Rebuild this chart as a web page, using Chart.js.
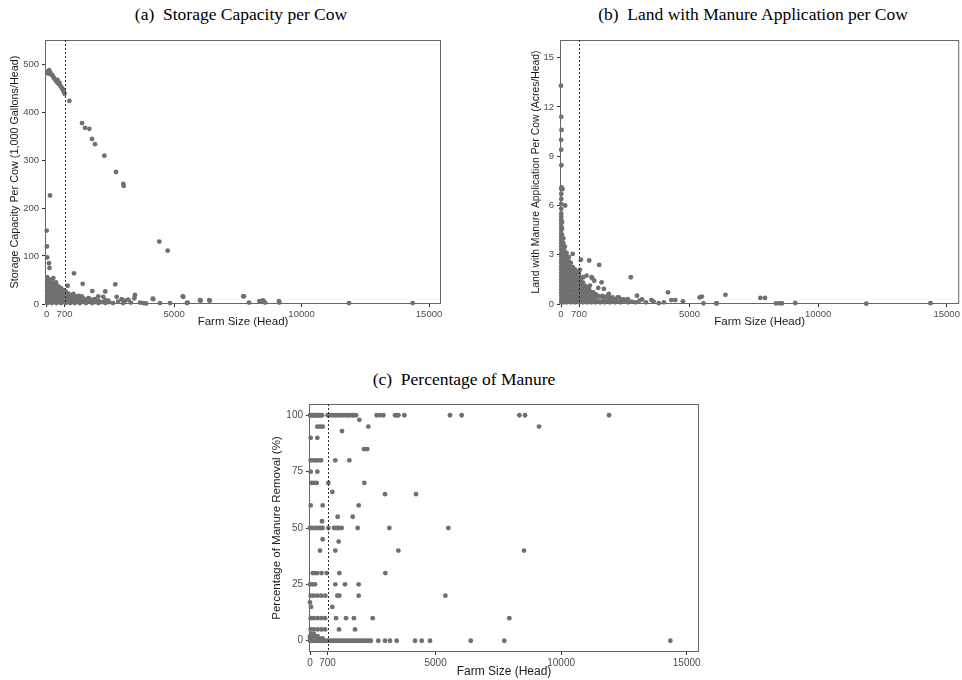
<!DOCTYPE html>
<html>
<head>
<meta charset="utf-8">
<script src="https://cdn.jsdelivr.net/npm/chart.js@4"></script>
<style>
  body { margin:0; background:#fff; width:962px; height:680px; position:relative; overflow:hidden; }
  .cap { position:absolute; width:440px; text-align:center; white-space:pre;
         font-family:"Liberation Serif","Times New Roman",serif; font-size:17.5px; color:#000; }
  canvas { position:absolute; }
</style>
</head>
<body>
<div class="cap" style="left:21px;top:4px">(a)  Storage Capacity per Cow</div>
<div class="cap" style="left:533px;top:4px">(b)  Land with Manure Application per Cow</div>
<div class="cap" style="left:244px;top:369px">(c)  Percentage of Manure</div>

<canvas id="cA" width="450" height="299" style="left:0;top:30px"></canvas>
<canvas id="cB" width="447" height="299" style="left:515px;top:30px"></canvas>
<canvas id="cC" width="440" height="284" style="left:264px;top:395px"></canvas>

<script>
const CUTOFF = 700;
const xTicks = [0, 700, 5000, 10000, 15000];

// (a) storage capacity per cow, 1,000 gal/head
const storageTicks = [0, 100, 200, 300, 400, 500];
const storageHigh = [[20,484],[60,480],[100,487],[140,482],[180,478],[230,476],[270,472],[300,470],[350,466],
  [390,463],[420,467],[460,459],[500,461],[530,455],[570,452],[610,449],[640,446],[670,442],[700,438]];
const storageScatter = [[890,423],[1385,377],[1502,367],[1672,365],[1777,344],[1895,333],[2260,309],[2719,275],
  [3005,250],[3020,246],[4418,130],[4747,111],[130,226],[0,153],[10,120],[20,97],[90,85],[110,75],[260,54],[365,45],
  [1071,64],[1411,42],[2692,41],[823,38],[1790,27],[2297,26],[3464,19],[3438,12],[4160,11],[4183,10],[5336,16],
  [5360,15],[5500,2],[5530,3],[6014,8],[6040,7],[6380,8],[6395,7],[7713,16],[7740,16],[7937,3],[8342,6],[8368,5],
  [8474,7],[8497,7],[8564,3],[9113,6],[9125,3],[11860,2],[14358,2],[1046,21],[1241,17],[1373,16],[1633,12],
  [1829,9],[2025,16],[2221,15],[2417,7],[2744,15],[2940,10],[3072,7],[3202,9],[3660,3],[3790,2],[4445,2],[4837,2]];
const storageColX = [20,110,200,290,380,470,560,650,740,830,920,1010,1100,1200,1300,1420,1540,1660,1780,1900,
  2030,2160,2300,2450,2600,2800,3000,3300,3900];
const storageColY = [[2,10,18,26,34,42,50,56],[4,12,20,28,36,44,51],[2,10,18,26,34,42,48],[5,13,21,29,37,44],
  [2,10,18,26,34,40],[5,13,21,29,36],[2,10,18,26,33],[5,13,21,29],[2,10,18,26],[5,13,22],[2,10,19],[5,13,18],
  [2,10,16],[5,13],[2,10,15],[5,12],[2,9],[5,11],[2,8],[4,10],[2,7],[4],[2,8],[4],[2],[5],[2],[3],[1]];

// (b) land with manure application per cow, acres/head
const landTicks = [0, 3, 6, 9, 12, 15];
const landScatter = [[0,13.3],[10,11.4],[20,10.6],[5,10.0],[8,9.4],[15,8.45],[20,7.1],[60,7.0],[160,6.0],
  [453,3.05],[775,2.7],[1097,2.65],[1485,2.38],[2713,1.63],[996,1.73],[1190,1.63],[736,2.08],[866,1.63],[1214,1.57],
  [1292,1.42],[1578,1.32],[1124,1.12],[1060,1.0],[1447,0.98],[1860,0.61],[1667,0.92],[2957,0.51],[4159,0.71],
  [4290,0.24],[4445,0.24],[4740,0.16],[5388,0.4],[5477,0.45],[6395,0.56],[6034,0.04],[2248,0.4],[2442,0.28],
  [3151,0.28],[3515,0.24],[5543,0.04],[6060,0.04],[7752,0.37],[7934,0.37],[8360,0.04],[8488,0.04],[8593,0.04],
  [9109,0.06],[11872,0.02],[14368,0.05]];
const landColX = [10,40,90,150,220,300,380,460,540,620,700,780,860,940,1020,1100,1180,1260,1340,1430,1520,1610,
  1700,1800,1900,2000,2100,2200,2320,2450,2600,2750,2900,3050,3300,3600,3800,4000];
const landColY = [
  [0.1,0.3,0.5,0.7,0.9,1.1,1.3,1.5,1.7,1.9,2.1,2.3,2.5,2.7,2.9,3.1,3.3,3.5,3.7,3.9,4.1,4.3,4.5,4.7,4.9,5.1,5.3,5.5,5.8,6.1,6.4,6.7,7.0],
  [0.2,0.6,1.0,1.4,1.8,2.2,2.6,3.0,3.4,3.8,4.2,4.6,5.0],
  [0.1,0.4,0.7,1.0,1.3,1.6,1.9,2.2,2.5,2.8,3.1,3.4,3.7,4.0],
  [0.2,0.5,0.8,1.1,1.4,1.7,2.0,2.3,2.6,2.9,3.2,3.5],
  [0.1,0.4,0.7,1.0,1.3,1.6,1.9,2.2,2.5,2.8,3.1],
  [0.2,0.5,0.8,1.1,1.4,1.7,2.0,2.3,2.6,2.85],
  [0.1,0.4,0.7,1.0,1.3,1.6,1.9,2.2,2.5],
  [0.2,0.5,0.8,1.1,1.4,1.7,2.0,2.25],
  [0.1,0.4,0.7,1.0,1.3,1.6,1.9,2.1],
  [0.2,0.5,0.8,1.1,1.4,1.7,1.95],
  [0.1,0.4,0.7,1.0,1.3,1.6,1.85],
  [0.2,0.5,0.8,1.1,1.4,1.6],
  [0.1,0.4,0.7,1.0,1.3],
  [0.2,0.5,0.8,1.1],
  [0.1,0.4,0.7,1.0],
  [0.2,0.5,0.85],[0.1,0.4,0.7],[0.2,0.5,0.7],[0.1,0.4,0.6],[0.2,0.5],[0.1,0.45],[0.2,0.5],[0.1,0.4],[0.2,0.5],
  [0.1,0.35],[0.2,0.4],[0.1,0.3],[0.15,0.4],[0.1,0.3],[0.2],[0.1,0.3],[0.15],[0.1],[0.2],[0.1],[0.15],[0.05],[0.1]];

// (c) percentage of manure removal, one row of farm sizes per percentage value
const pctTicks = [0, 25, 50, 75, 100];
const pctRowY = [100,98,95,93,90,85,80,75,70,66,65,60,55,53,50,45,44,40,30,25,20,17,15,10,5,3,2,1,0];
const pctRowX = [
  [0,40,80,120,160,200,240,280,320,360,400,440,480,700,760,860,960,1040,1130,1200,1300,1400,1500,1570,1680,1730,1830,2655,2780,2921,3385,3450,3518,3757,5575,6040,8336,8562,11908],
  [1965],
  [292,398,504,2323,9120],
  [1274],
  [27,292],
  [2150,2283],
  [27,150,239,332,438,1009,1566],
  [27,292],
  [66,159,265,730,2164],
  [889],
  [2987,4221],
  [27,504,1938],
  [1102,1699],
  [478],
  [0,80,200,300,400,500,730,956,1050,1150,1260,1898,3159,5509],
  [504],
  [1142],
  [398,1009,3518,8522],
  [106,200,290,460,664,1168,3000],
  [0,100,200,1009,1394,1938],
  [27,150,300,450,611,1089,1168,1938,5390],
  [0],
  [40,889],
  [27,150,300,450,600,1035,1434,1750,2496,7938],
  [27,150,300,450,600,1155,1792],
  [50,150],
  [0,100,200,300],
  [0,120,250,380,500],
  [0,80,160,250,330,420,500,600,700,790,880,970,1060,1150,1240,1330,1420,1510,1600,1690,1780,1870,1960,2050,2140,2230,2320,2420,2721,2987,3186,3452,4181,4447,4779,6399,7738,14349]
];

const POINT = '#707070';
const SANS = '"Liberation Sans", Arial, sans-serif';

const pairs = arr => arr.map(([x, y]) => ({x, y}));
const cols = (xs, ys) => xs.flatMap((x, i) => ys[i].map(y => ({x, y})));
const rows = (ys, xs) => ys.flatMap((y, i) => xs[i].map(x => ({x, y})));

const framePlugin = {
  id: 'frame',
  beforeDatasetsDraw(chart) {
    const {ctx, chartArea: a} = chart;
    ctx.save();
    ctx.strokeStyle = '#666';
    ctx.lineWidth = 1;
    ctx.strokeRect(a.left + 0.5, a.top + 0.5, a.width - 1, a.height - 1);
    ctx.restore();
  },
  afterDatasetsDraw(chart) {
    const {ctx, chartArea: a, scales: {x}} = chart;
    const px = Math.round(x.getPixelForValue(CUTOFF)) + 0.5;
    ctx.save();
    ctx.strokeStyle = '#2a2a2a';
    ctx.lineWidth = 1;
    ctx.setLineDash([2, 2]);
    ctx.beginPath(); ctx.moveTo(px, a.top); ctx.lineTo(px, a.bottom); ctx.stroke();
    ctx.restore();
  }
};

function makeChart(id, points, cfg) {
  return new Chart(document.getElementById(id), {
    type: 'scatter',
    data: { datasets: [{ data: points, pointRadius: 2.4, pointHoverRadius: 2.4, backgroundColor: POINT,
      borderWidth: 0, clip: false }] },
    options: {
      responsive: false, animation: false, events: [],
      layout: { padding: cfg.pad },
      plugins: { legend: { display: false }, tooltip: { enabled: false } },
      scales: {
        x: {
          type: 'linear', min: cfg.xMin, max: cfg.xMax,
          afterBuildTicks: s => { s.ticks = xTicks.map(v => ({value: v})); },
          afterFit: s => { s.height = cfg.xHeight; },
          grid: { drawOnChartArea: false, tickLength: 3, color: '#333' },
          border: { display: false },
          ticks: { autoSkip: false, maxRotation: 0, padding: 2, color: '#4d4d4d',
            font: { family: SANS, size: cfg.tickSize }, callback: v => String(v) },
          title: { display: true, text: 'Farm Size (Head)', color: '#1a1a1a',
            font: { family: SANS, size: cfg.xTitleSize }, padding: { top: 0, bottom: 0 } }
        },
        y: {
          type: 'linear', min: cfg.yMin, max: cfg.yMax,
          afterBuildTicks: s => { s.ticks = cfg.yTicks.map(v => ({value: v})); },
          afterFit: s => { s.width = 45; },
          grid: { drawOnChartArea: false, tickLength: 3, color: '#333' },
          border: { display: false },
          ticks: { autoSkip: false, padding: 3, color: '#4d4d4d',
            font: { family: SANS, size: cfg.tickSize }, callback: v => String(v) },
          title: { display: true, text: cfg.yTitle, color: '#1a1a1a',
            font: { family: SANS, size: cfg.yTitleSize }, padding: { top: cfg.yTitlePad, bottom: 0 } }
        }
      }
    },
    plugins: [framePlugin]
  });
}

makeChart('cA', pairs(storageHigh).concat(pairs(storageScatter), cols(storageColX, storageColY)), {
  pad: {left: 0, top: 10, right: 9, bottom: 0}, xMin: -67, xMax: 15470, yMin: 0, yMax: 550, xHeight: 25,
  yTicks: storageTicks, yTitle: 'Storage Capacity Per Cow (1,000 Gallons/Head)',
  tickSize: 9.5, xTitleSize: 11.5, yTitleSize: 10.8, yTitlePad: 8.5
});

makeChart('cB', pairs(landScatter).concat(cols(landColX, landColY)), {
  pad: {left: 0, top: 10, right: 1, bottom: 0}, xMin: -39, xMax: 15486, yMin: 0, yMax: 16.08, xHeight: 25,
  yTicks: landTicks, yTitle: 'Land with Manure Application Per Cow (Acres/Head)',
  tickSize: 9.5, xTitleSize: 11.5, yTitleSize: 10.4, yTitlePad: 14.5
});

makeChart('cC', rows(pctRowY, pctRowX), {
  pad: {left: 0, top: 8, right: 5, bottom: 0}, xMin: -40, xMax: 15490, yMin: -5, yMax: 105, xHeight: 27,
  yTicks: pctTicks, yTitle: 'Percentage of Manure Removal (%)',
  tickSize: 10, xTitleSize: 12, yTitleSize: 11.5, yTitlePad: 5.7
});
</script>
</body>
</html>
